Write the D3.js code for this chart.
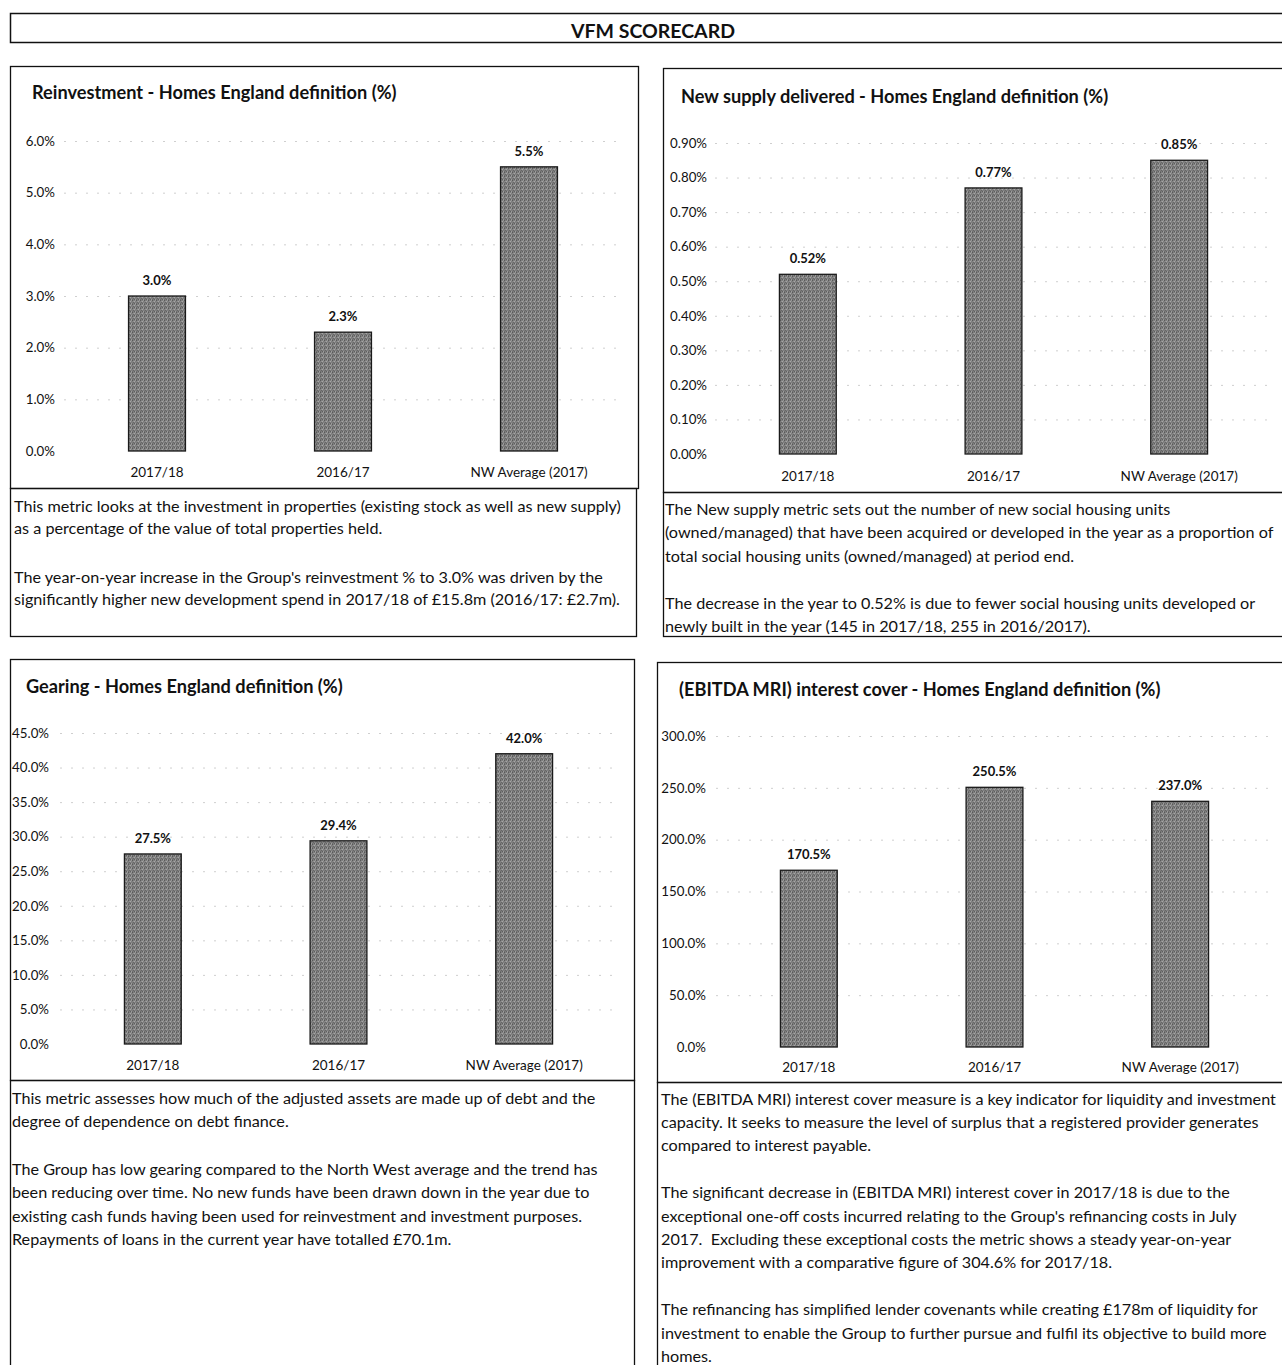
<!DOCTYPE html>
<html>
<head>
<meta charset="utf-8">
<script src="https://cdn.jsdelivr.net/npm/d3@7"></script>
<style>
  html, body { margin: 0; padding: 0; background: #fff; }
  svg { display: block; }
  text { font-family: Lato, "Open Sans", sans-serif; fill: #111; }
</style>
</head>
<body>
<svg id="chart" width="1282" height="1365"></svg>
<script>
// ---------------- DATA ----------------
const categories = ["2017/18", "2016/17", "NW Average (2017)"];

const reinvestmentValues = [3.0, 2.3, 5.5];
const reinvestmentTicks = [0, 1, 2, 3, 4, 5, 6];

const newSupplyValues = [0.52, 0.77, 0.85];
const newSupplyTicks = [0, 0.1, 0.2, 0.3, 0.4, 0.5, 0.6, 0.7, 0.8, 0.9];

const gearingValues = [27.5, 29.4, 42.0];
const gearingTicks = [0, 5, 10, 15, 20, 25, 30, 35, 40, 45];

const interestCoverValues = [170.5, 250.5, 237.0];
const interestCoverTicks = [0, 50, 100, 150, 200, 250, 300];

const pageTitle = "VFM SCORECARD";

const titles = [
  "Reinvestment - Homes England definition (%)",
  "New supply delivered - Homes England definition (%)",
  "Gearing - Homes England definition (%)",
  "(EBITDA MRI) interest cover - Homes England definition (%)"
];

const notes1 = [
  "This metric looks at the investment in properties (existing stock as well as new supply)",
  "as a percentage of the value of total properties held.",
  "",
  "The year-on-year increase in the Group's reinvestment % to 3.0% was driven by the",
  "significantly higher new development spend in 2017/18 of £15.8m (2016/17: £2.7m)."
];
const notes2 = [
  "The New supply metric sets out the number of new social housing units",
  "(owned/managed) that have been acquired or developed in the year as a proportion of",
  "total social housing units (owned/managed) at period end.",
  "",
  "The decrease in the year to 0.52% is due to fewer social housing units developed or",
  "newly built in the year (145 in 2017/18, 255 in 2016/2017)."
];
const notes3 = [
  "This metric assesses how much of the adjusted assets are made up of debt and the",
  "degree of dependence on debt finance.",
  "",
  "The Group has low gearing compared to the North West average and the trend has",
  "been reducing over time. No new funds have been drawn down in the year due to",
  "existing cash funds having been used for reinvestment and investment purposes.",
  "Repayments of loans in the current year have totalled £70.1m."
];
const notes4 = [
  "The (EBITDA MRI) interest cover measure is a key indicator for liquidity and investment",
  "capacity. It seeks to measure the level of surplus that a registered provider generates",
  "compared to interest payable.",
  "",
  "The significant decrease in (EBITDA MRI) interest cover in 2017/18 is due to the",
  "exceptional one-off costs incurred relating to the Group's refinancing costs in July",
  "2017.  Excluding these exceptional costs the metric shows a steady year-on-year",
  "improvement with a comparative figure of 304.6% for 2017/18.",
  "",
  "The refinancing has simplified lender covenants while creating £178m of liquidity for",
  "investment to enable the Group to further pursue and fulfil its objective to build more",
  "homes."
];

// ---------------- LAYOUT ----------------
const svg = d3.select("#chart");
svg.append("rect").attr("width", 1282).attr("height", 1365).attr("fill", "#fff");

// bar texture pattern (scanned stipple look)
const defs = svg.append("defs");
const pat = defs.append("pattern").attr("id", "stipple")
  .attr("width", 4).attr("height", 4).attr("patternUnits", "userSpaceOnUse");
pat.append("rect").attr("width", 4).attr("height", 4).attr("fill", "#7e7e7e");
[[0,0,"#5a5a5a"],[2,1,"#a6a6a6"],[1,2,"#666"],[3,3,"#9c9c9c"],[3,0,"#959595"],[0,3,"#6c6c6c"],[1,1,"#8f8f8f"],[2,3,"#5f5f5f"]]
  .forEach(([px, py, c]) => pat.append("rect").attr("x", px).attr("y", py).attr("width", 1).attr("height", 1).attr("fill", c));

// header box
svg.append("rect").attr("x", 10.5).attr("y", 13.5).attr("width", 1290).attr("height", 29)
  .attr("fill", "none").attr("stroke", "#111").attr("stroke-width", 1.5);
svg.append("text").attr("x", 653).attr("y", 37.5).attr("text-anchor", "middle")
  .attr("font-size", 19.5).attr("font-weight", 700).text(pageTitle);

const panels = [
  {
    values: reinvestmentValues, ticks: reinvestmentTicks, fmt: d3.format(".1f"), title: titles[0], notes: notes1,
    box: [10, 66, 628, 422], noteBox: [10, 488, 626, 148],
    titleXY: [32, 99], xRange: [64, 622], yRange: [451, 141], tickX: 55, xLabelY: 477,
    noteX: 14, noteY: 511.5, lineH: 22, blankH: 27
  },
  {
    values: newSupplyValues, ticks: newSupplyTicks, fmt: d3.format(".2f"), title: titles[1], notes: notes2,
    box: [663, 68, 640, 424], noteBox: [663, 492, 640, 144],
    titleXY: [681, 103], xRange: [715, 1272], yRange: [454, 143], tickX: 707, xLabelY: 481,
    noteX: 665, noteY: 514.5, lineH: 23.5, blankH: 23.5
  },
  {
    values: gearingValues, ticks: gearingTicks, fmt: d3.format(".1f"), title: titles[2], notes: notes3,
    box: [10, 659, 624, 421], noteBox: [10, 1080, 624, 300],
    titleXY: [26, 693], xRange: [60, 617], yRange: [1044, 733], tickX: 49, xLabelY: 1070,
    noteX: 12, noteY: 1103.5, lineH: 23.4, blankH: 24.6
  },
  {
    values: interestCoverValues, ticks: interestCoverTicks, fmt: d3.format(".1f"), title: titles[3], notes: notes4,
    box: [657, 662, 640, 420], noteBox: [657, 1082, 640, 300],
    titleXY: [679, 696], xRange: [716, 1273], yRange: [1047, 736], tickX: 706, xLabelY: 1072,
    noteX: 661, noteY: 1104.5, lineH: 23.4, blankH: 23.4
  }
];

panels.forEach(p => {
  const g = svg.append("g");
  // frames
  g.append("rect").attr("x", p.box[0] + 0.5).attr("y", p.box[1] + 0.5)
    .attr("width", p.box[2]).attr("height", p.box[3])
    .attr("fill", "none").attr("stroke", "#111").attr("stroke-width", 1.3);
  g.append("rect").attr("x", p.noteBox[0] + 0.5).attr("y", p.noteBox[1] + 0.5)
    .attr("width", p.noteBox[2]).attr("height", p.noteBox[3])
    .attr("fill", "none").attr("stroke", "#111").attr("stroke-width", 1.3);

  // title
  g.append("text").attr("x", p.titleXY[0]).attr("y", p.titleXY[1])
    .attr("font-size", 18.2).attr("font-weight", 700).text(p.title);

  const x = d3.scaleBand().domain(categories).range(p.xRange)
    .paddingInner(0.694).paddingOuter(0.347);
  const y = d3.scaleLinear().domain([0, d3.max(p.ticks)]).range(p.yRange);

  // gridlines
  g.selectAll(".grid").data(p.ticks.slice(1)).join("line")
    .attr("x1", p.xRange[0]).attr("x2", p.xRange[1])
    .attr("y1", d => y(d) + 0.5).attr("y2", d => y(d) + 0.5)
    .attr("stroke", "#cfcfcf").attr("stroke-width", 1).attr("stroke-dasharray", "2,9");

  // y axis (labels only)
  const yAxis = d3.axisLeft(y).tickValues(p.ticks).tickFormat(d => p.fmt(d) + "%").tickSize(0).tickPadding(0);
  const ya = g.append("g").attr("transform", `translate(${p.tickX},0)`).call(yAxis);
  ya.select(".domain").remove();
  ya.selectAll("text").attr("font-size", 13.3).attr("fill", "#111")
    .style("font-family", "Lato, sans-serif");

  // x axis (labels only)
  const xAxis = d3.axisBottom(x).tickSize(0).tickPadding(0);
  const xa = g.append("g").attr("transform", `translate(0,${p.xLabelY - 10})`).call(xAxis);
  xa.select(".domain").remove();
  xa.selectAll("text").attr("font-size", 13.5).attr("fill", "#111")
    .style("font-family", "Lato, sans-serif");

  // bars
  g.selectAll(".bar").data(p.values).join("rect")
    .attr("x", (d, i) => x(categories[i]))
    .attr("y", d => y(d))
    .attr("width", x.bandwidth())
    .attr("height", d => y(0) - y(d))
    .attr("fill", "url(#stipple)")
    .attr("stroke", "#1a1a1a").attr("stroke-width", 1.3);

  // value labels
  g.selectAll(".val").data(p.values).join("text")
    .attr("x", (d, i) => x(categories[i]) + x.bandwidth() / 2)
    .attr("y", d => y(d) - 11)
    .attr("text-anchor", "middle").attr("font-size", 13).attr("font-weight", 700)
    .text(d => p.fmt(d) + "%");

  // notes
  const t = g.append("text").attr("font-size", 16.2);
  let yy = p.noteY;
  p.notes.forEach(line => {
    if (line !== "") {
      t.append("tspan").attr("x", p.noteX).attr("y", yy).attr("xml:space", "preserve").text(line);
      yy += p.lineH;
    } else {
      yy += p.blankH;
    }
  });
});
</script>
</body>
</html>
